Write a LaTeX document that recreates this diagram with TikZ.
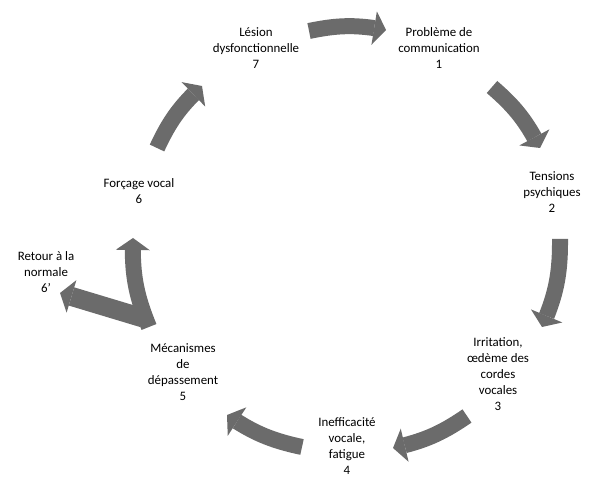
\documentclass[tikz,border=0pt]{standalone}
\usepackage{fontspec}
\setmainfont{Carlito}
\usetikzlibrary{arrows.meta, bending, positioning}

\begin{document}
\begin{tikzpicture}[x=0.03cm, y=0.03cm, >={Triangle[width=1.02cm, length=0.36cm, line width=0pt]}, auto]

        \tikzstyle{every node}=[align=center, inner sep=0pt, font=\fontsize{11}{13.6}\selectfont]
        \tikzstyle{cycle arrow}=[->, color=black!58, line width=0.48cm]

        \clip (0,0) rectangle (590,479);

        \node (n7)  at (256,431) {Lésion\\dysfonctionnelle\\7};
        \node (n1)  at (439,431) {Problème de\\communication\\1};
        \node (n2)  at (552,287) {Tensions\\psychiques\\2};
        \node (n3)  at (498,105) {Irritation,\\œdème des\\cordes\\vocales\\3};
        \node (n4)  at (347,33)  {Inefficacité\\vocale,\\fatigue\\4};
        \node (n5)  at (183,107) {Mécanismes\\de\\dépassement\\5};
        \node (n6)  at (139,288) {Forçage vocal\\6};
        \node (n6b) at (46,207)  {Retour à la\\normale\\6’};

        \coordinate (s71) at (309,448);  \coordinate (e71) at (386,449);
        \coordinate (s12) at (492,392);  \coordinate (e12) at (540,331);
        \coordinate (s23) at (560,240);  \coordinate (e23) at (542,152);
        \coordinate (s34) at (467,63);   \coordinate (e34) at (393,31);
        \coordinate (s45) at (302,32);   \coordinate (e45) at (227,64);
        \coordinate (s56b) at (143,161); \coordinate (e56b) at (60,186);
        \coordinate (s56) at (149,152);  \coordinate (e56) at (133,241);
        \coordinate (s67) at (157,331);  \coordinate (e67) at (202,393);

        \path[cycle arrow]
        (s71) edge  [bend left=11] (e71)
        (s12) edge  [bend left=11] (e12)
        (s23) edge  [bend left=12] (e23)
        (s34) edge  [bend left=11] (e34)
        (s45) edge  [bend left=11] (e45)
        (s56b) edge [line width=0.57cm] (e56b)
        (s56) edge  [bend left=12] (e56)
        (s67) edge  [bend left=11] (e67);

\end{tikzpicture}
\end{document}
